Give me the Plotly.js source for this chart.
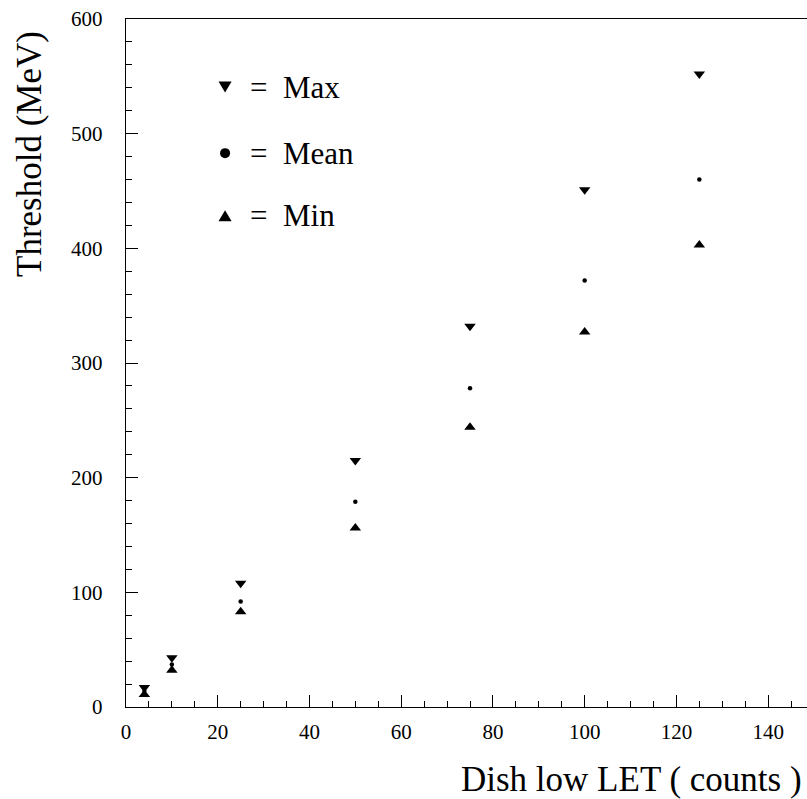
<!DOCTYPE html>
<html>
<head>
<meta charset="utf-8">
<script src="https://cdn.plot.ly/plotly-3.0.1.min.js"></script>
<style>
html,body{margin:0;padding:0;overflow:hidden;background:#fff;}
#chart{width:830px;height:799px;}
</style>
</head>
<body>
<div id="chart"></div>
<script>
var dishLowLET = [4, 10, 25, 50, 75, 100, 125];
var thresholdMax = [17, 43, 108, 215, 332, 451, 552];
var thresholdMean = [14, 37, 92, 179, 278, 372, 460];
var thresholdMin = [11, 32, 83, 156, 244, 327, 403];

var xTitle = "Dish low LET ( counts )";
var yTitle = "Threshold (MeV)";
var legendLabels = ["Max", "Mean", "Min"];

var FONT_FAMILY = "Times New Roman";

var traces = [
  {x: dishLowLET, y: thresholdMax, mode: "markers", type: "scatter",
   marker: {symbol: "triangle-down", size: 10, color: "black"}, name: "Max"},
  {x: dishLowLET, y: thresholdMean, mode: "markers", type: "scatter",
   marker: {symbol: "circle", size: 4.5, color: "black"}, name: "Mean"},
  {x: dishLowLET, y: thresholdMin, mode: "markers", type: "scatter",
   marker: {symbol: "triangle-up", size: 10, color: "black"}, name: "Min"}
];

var legendY = [0.901, 0.805, 0.714];
var symX = 0.144, hw = 0.0095, hh = 0.008, cr = 0.0073;
var shapes = [
  {type: "path", xref: "paper", yref: "paper", fillcolor: "black", line: {width: 0},
   path: "M" + (symX - hw) + "," + (legendY[0] + hh) + " L" + (symX + hw) + "," + (legendY[0] + hh) + " L" + symX + "," + (legendY[0] - hh) + " Z"},
  {type: "circle", xref: "paper", yref: "paper", fillcolor: "black", line: {width: 0},
   x0: symX - cr, x1: symX + cr, y0: legendY[1] - cr, y1: legendY[1] + cr},
  {type: "path", xref: "paper", yref: "paper", fillcolor: "black", line: {width: 0},
   path: "M" + (symX - hw) + "," + (legendY[2] - hh) + " L" + (symX + hw) + "," + (legendY[2] - hh) + " L" + symX + "," + (legendY[2] + hh) + " Z"}
];

var annotations = [];
for (var i = 0; i < legendLabels.length; i++) {
  annotations.push({xref: "paper", yref: "paper", x: 0.178, y: legendY[i],
    text: "=  " + legendLabels[i], showarrow: false, xanchor: "left", yanchor: "middle",
    font: {family: FONT_FAMILY, size: 31, color: "black"}});
}
annotations.push({xref: "paper", yref: "paper", x: 0.985, y: -0.105,
  text: xTitle, showarrow: false, xanchor: "right", yanchor: "middle",
  font: {family: FONT_FAMILY, size: 35, color: "black"}});
annotations.push({xref: "paper", yref: "paper", x: -0.14, y: 0.985,
  text: yTitle, showarrow: false, xanchor: "center", yanchor: "top", textangle: -90,
  font: {family: FONT_FAMILY, size: 35, color: "black"}});

var layout = {
  width: 830, height: 799,
  margin: {l: 126, r: 16, t: 19, b: 92, pad: 0},
  paper_bgcolor: "white", plot_bgcolor: "white",
  showlegend: false,
  font: {family: FONT_FAMILY, color: "black"},
  xaxis: {range: [0, 150], showgrid: false, zeroline: false,
    showline: true, mirror: true, linecolor: "black", linewidth: 1.2,
    ticks: "inside", ticklen: 12, tickwidth: 1, tickcolor: "black",
    tick0: 0, dtick: 20, ticklabelstandoff: 6,
    minor: {ticks: "inside", ticklen: 6, dtick: 5, tickcolor: "black", tickwidth: 1, showgrid: false},
    tickfont: {family: FONT_FAMILY, size: 21, color: "black"}},
  yaxis: {range: [0, 600], showgrid: false, zeroline: false,
    showline: true, mirror: true, linecolor: "black", linewidth: 1.2,
    ticks: "inside", ticklen: 12, tickwidth: 1, tickcolor: "black",
    tick0: 0, dtick: 100, ticklabelstandoff: 18,
    minor: {ticks: "inside", ticklen: 6, dtick: 20, tickcolor: "black", tickwidth: 1, showgrid: false},
    tickfont: {family: FONT_FAMILY, size: 21, color: "black"}},
  shapes: shapes,
  annotations: annotations
};

Plotly.newPlot("chart", traces, layout, {staticPlot: true});
</script>
</body>
</html>
